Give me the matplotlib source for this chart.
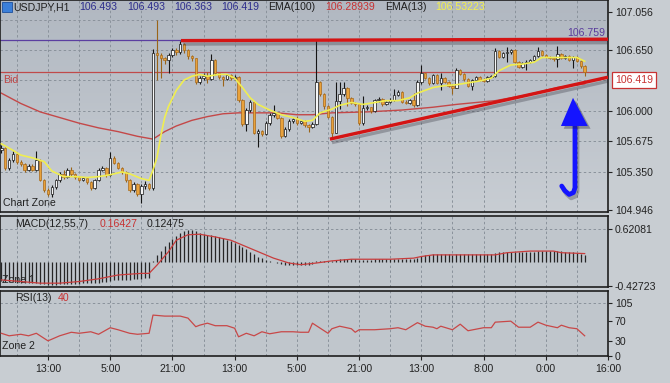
import numpy as np
import matplotlib
matplotlib.use('Agg')
import matplotlib.pyplot as plt
import matplotlib.patheffects as pe
from matplotlib.colors import LinearSegmentedColormap
from matplotlib.patches import Polygon, Rectangle

plt.rcParams['font.family'] = ['Liberation Sans', 'DejaVu Sans']

# ---- USDJPY H1 candles (open = previous close) ----
open_first = 105.58
close = [
    105.61, 105.39, 105.48, 105.54, 105.46, 105.43, 105.37, 105.41, 105.37, 105.48,
    105.26, 105.16, 105.11, 105.19, 105.26, 105.33, 105.30, 105.37, 105.33, 105.30,
    105.26, 105.29, 105.24, 105.18, 105.26, 105.37, 105.39, 105.32, 105.50, 105.45,
    105.39, 105.35, 105.26, 105.16, 105.22, 105.11, 105.20, 105.22, 105.18, 106.62,
    106.60, 106.56, 106.54, 106.60, 106.65, 106.63, 106.71, 106.65, 106.59, 106.56,
    106.31, 106.35, 106.37, 106.34, 106.54, 106.40, 106.36, 106.34, 106.38, 106.35,
    106.36, 106.12, 105.86, 106.01, 106.10, 105.77, 105.79, 105.75, 105.87, 105.96,
    105.98, 105.93, 105.73, 105.81, 105.89, 105.91, 105.87, 105.89, 105.85, 105.83,
    105.86, 106.31, 106.18, 106.05, 105.94, 105.77, 106.11, 106.18, 106.25, 106.14,
    106.09, 106.07, 105.87, 106.03, 106.04, 106.00, 106.12, 106.13, 106.07, 106.10,
    106.12, 106.17, 106.20, 106.10, 106.09, 106.12, 106.06, 106.31, 106.40, 106.35,
    106.30, 106.38, 106.30, 106.35, 106.31, 106.27, 106.25, 106.44, 106.39, 106.34,
    106.27, 106.33, 106.36, 106.33, 106.32, 106.36, 106.37, 106.64, 106.58, 106.62,
    106.63, 106.65, 106.52, 106.47, 106.51, 106.52, 106.54, 106.59, 106.64, 106.60,
    106.58, 106.56, 106.55, 106.61, 106.56, 106.59, 106.54, 106.58, 106.53, 106.48,
    106.42]
high = [
    105.64, 105.62, 105.50, 105.57, 105.55, 105.48, 105.45, 105.43, 105.43, 105.57,
    105.49, 105.28, 105.18, 105.21, 105.28, 105.35, 105.37, 105.39, 105.40, 105.34,
    105.31, 105.30, 105.30, 105.25, 105.27, 105.39, 105.41, 105.40, 105.56, 105.52,
    105.46, 105.40, 105.36, 105.27, 105.24, 105.23, 105.22, 105.25, 105.23, 106.66,
    106.97, 106.62, 106.58, 106.62, 106.67, 106.67, 106.75, 106.72, 106.66, 106.60,
    106.57, 106.37, 106.40, 106.42, 106.61, 106.55, 106.41, 106.37, 106.39, 106.39,
    106.38, 106.37, 106.13, 106.03, 106.12, 106.11, 105.81, 105.80, 105.89, 105.98,
    106.06, 105.99, 105.94, 105.83, 105.91, 105.93, 105.95, 105.90, 105.90, 105.86,
    105.88, 106.76, 106.32, 106.19, 106.06, 105.95, 106.31, 106.31, 106.31, 106.26,
    106.15, 106.10, 106.08, 106.16, 106.06, 106.04, 106.13, 106.15, 106.14, 106.11,
    106.14, 106.23, 106.22, 106.21, 106.12, 106.13, 106.19, 106.33, 106.49, 106.41,
    106.36, 106.39, 106.39, 106.40, 106.36, 106.32, 106.28, 106.46, 106.45, 106.40,
    106.35, 106.34, 106.37, 106.37, 106.35, 106.37, 106.38, 106.67, 106.65, 106.63,
    106.68, 106.66, 106.66, 106.53, 106.52, 106.54, 106.55, 106.60, 106.68, 106.65,
    106.61, 106.59, 106.57, 106.69, 106.62, 106.60, 106.60, 106.59, 106.59, 106.54,
    106.49]
low = [
    105.55, 105.37, 105.37, 105.46, 105.44, 105.41, 105.35, 105.36, 105.36, 105.36,
    105.25, 105.14, 105.09, 105.08, 105.17, 105.24, 105.28, 105.29, 105.31, 105.28,
    105.25, 105.25, 105.22, 105.16, 105.17, 105.25, 105.36, 105.30, 105.31, 105.44,
    105.38, 105.33, 105.24, 105.14, 105.14, 105.09, 105.02, 105.17, 105.16, 105.16,
    106.33, 106.35, 106.50, 106.40, 106.58, 106.60, 106.61, 106.62, 106.55, 106.53,
    106.29, 106.29, 106.33, 106.30, 106.33, 106.38, 106.34, 106.27, 106.33, 106.33,
    106.33, 106.10, 105.84, 105.79, 105.99, 105.75, 105.62, 105.73, 105.74, 105.85,
    105.94, 105.91, 105.71, 105.72, 105.79, 105.87, 105.85, 105.86, 105.83, 105.78,
    105.82, 105.85, 106.16, 106.02, 105.92, 105.71, 105.76, 106.02, 106.16, 106.05,
    106.07, 106.05, 105.85, 105.85, 106.01, 105.98, 105.99, 106.10, 106.05, 106.06,
    106.09, 106.11, 106.16, 106.08, 106.07, 106.07, 106.04, 106.05, 106.29, 106.34,
    106.28, 106.29, 106.29, 106.22, 106.30, 106.26, 106.18, 106.24, 106.38, 106.32,
    106.26, 106.22, 106.32, 106.32, 106.31, 106.31, 106.35, 106.36, 106.57, 106.57,
    106.52, 106.61, 106.51, 106.46, 106.46, 106.44, 106.51, 106.53, 106.58, 106.59,
    106.56, 106.55, 106.53, 106.47, 106.55, 106.55, 106.53, 106.46, 106.52, 106.46,
    106.37]

# moving averages, sampled at a few bars
ema13_bars = [0, 3, 5, 8, 11, 13, 16, 19, 22, 25, 28, 31, 33, 36, 38, 39, 40, 41, 42, 43,
              45, 47, 49, 51, 53, 56, 58, 60, 62, 64, 66, 69, 72, 75, 78, 80, 82, 85, 87, 90,
              93, 96, 99, 102, 105, 107, 109, 111, 114, 117, 120, 123, 126, 128, 131, 134, 137,
              139, 142, 145, 148, 150]
ema13 = [105.65, 105.58, 105.53, 105.50, 105.46, 105.36, 105.30, 105.30, 105.29, 105.30,
         105.32, 105.35, 105.33, 105.28, 105.26, 105.37, 105.50, 105.73, 105.93, 106.05,
         106.22, 106.33, 106.37, 106.39, 106.37, 106.39, 106.39, 106.35, 106.25, 106.14,
         106.07, 106.01, 105.96, 105.93, 105.89, 105.90, 105.98, 106.02, 106.06, 106.09,
         106.07, 106.09, 106.11, 106.11, 106.14, 106.19, 106.22, 106.25, 106.27, 106.28,
         106.30, 106.32, 106.35, 106.43, 106.49, 106.50, 106.52, 106.57, 106.57, 106.57,
         106.57, 106.53]
ema100_bars = [0, 5, 10, 15, 20, 25, 30, 35, 39, 42, 45, 49, 53, 57, 61, 66, 71, 76, 80,
               85, 94, 103, 111, 117, 127, 135, 143, 150]
ema100 = [106.19, 106.08, 105.99, 105.93, 105.87, 105.82, 105.78, 105.73, 105.70, 105.78,
          105.84, 105.90, 105.94, 105.97, 105.98, 105.98, 105.98, 105.96, 105.96, 105.98,
          105.99, 106.01, 106.04, 106.07, 106.11, 106.17, 106.25, 106.29]

# MACD(12,55,7): histogram per bar, signal sampled
macd_hist = [
    -0.34, -0.35, -0.36, -0.36, -0.37, -0.37, -0.38, -0.38, -0.38, -0.38,
    -0.39, -0.40, -0.41, -0.41, -0.41, -0.40, -0.40, -0.39, -0.39, -0.39,
    -0.39, -0.38, -0.38, -0.38, -0.38, -0.37, -0.36, -0.36, -0.34, -0.33,
    -0.33, -0.32, -0.32, -0.32, -0.31, -0.31, -0.30, -0.29, -0.29, 0.03,
    0.13, 0.22, 0.31, 0.38, 0.44, 0.49, 0.54, 0.57, 0.59, 0.59,
    0.57, 0.55, 0.53, 0.51, 0.50, 0.49, 0.47, 0.45, 0.42, 0.39,
    0.36, 0.32, 0.28, 0.24, 0.20, 0.15, 0.11, 0.08, 0.05, 0.03,
    0.01, -0.01, -0.03, -0.04, -0.04, -0.05, -0.05, -0.05, -0.05, -0.04,
    -0.03, 0.02, 0.03, 0.03, 0.03, 0.02, 0.04, 0.06, 0.07, 0.07,
    0.07, 0.07, 0.05, 0.05, 0.05, 0.05, 0.06, 0.06, 0.06, 0.06,
    0.06, 0.07, 0.07, 0.06, 0.06, 0.06, 0.06, 0.09, 0.12, 0.13,
    0.14, 0.15, 0.15, 0.15, 0.15, 0.15, 0.14, 0.16, 0.16, 0.15,
    0.15, 0.15, 0.15, 0.15, 0.15, 0.15, 0.15, 0.18, 0.19, 0.19,
    0.19, 0.20, 0.19, 0.19, 0.19, 0.19, 0.20, 0.20, 0.21, 0.21,
    0.21, 0.21, 0.21, 0.21, 0.21, 0.20, 0.20, 0.19, 0.18, 0.15,
    0.13]
signal_bars = [0, 5, 10, 15, 20, 25, 30, 36, 38, 40, 43, 45, 48, 51, 55, 59, 63, 67, 70,
               74, 77, 81, 85, 90, 94, 100, 106, 108, 111, 120, 127, 130, 136, 142, 144, 150]
signal = [-0.32, -0.35, -0.38, -0.38, -0.35, -0.30, -0.23, -0.20, -0.20, -0.05, 0.20, 0.41,
          0.51, 0.52, 0.47, 0.41, 0.29, 0.17, 0.08, -0.01, -0.04, -0.01, 0.03, 0.06, 0.06,
          0.06, 0.08, 0.11, 0.14, 0.14, 0.14, 0.18, 0.21, 0.21, 0.18, 0.164]

# RSI(13), sampled
rsi_bars = [0, 2, 5, 7, 9, 12, 15, 18, 20, 23, 25, 28, 30, 33, 35, 38, 39, 42, 46, 48,
            50, 51, 53, 55, 58, 60, 61, 63, 65, 67, 69, 72, 75, 77, 79, 80, 82, 84, 85, 87,
            90, 91, 92, 96, 100, 102, 104, 107, 109, 111, 112, 113, 116, 118, 120, 124, 126,
            127, 131, 133, 136, 138, 140, 143, 144, 146, 148, 150]
rsi = [45, 40, 43, 40, 45, 30, 40, 47, 45, 48, 43, 56, 52, 45, 43, 45, 81, 79, 79, 75,
       58, 61, 65, 60, 60, 55, 38, 45, 40, 48, 44, 48, 48, 47, 47, 65, 55, 45, 54, 59,
       54, 47, 52, 52, 54, 56, 52, 66, 59, 57, 54, 59, 52, 63, 50, 56, 56, 67, 69, 57,
       57, 67, 61, 56, 61, 56, 54, 40]

time_labels = ['13:00', '5:00', '21:00', '13:00', '5:00', '21:00', '13:00', '8:00', '0:00', '16:00']
label_bars = [12, 28, 44, 60, 76, 92, 108, 124, 140, 156]
price_ticks = [104.946, 105.350, 105.675, 106.000, 106.650, 107.056]
price_grid = [105.350, 105.675, 106.000, 106.325, 106.650, 106.975]
bid, top_level = 106.419, 106.759

# drawn annotations (bar index, price)
resist_line = ([46.2, 156], [106.75, 106.765])
support_line = ([84.5, 156], [105.70, 106.36])
arrow_shaft = ([147.5, 147.5, 147.1, 146.0, 144.9, 144.1],
               [105.86, 105.18, 105.13, 105.11, 105.15, 105.20])
arrow_head = ([143.9, 150.8, 147.0], [105.84, 105.84, 106.14])

# ---- figure ----
W, H = 670, 383
fig = plt.figure(figsize=(W / 100, H / 100), dpi=100)
fig.patch.set_facecolor('#c8cdd2')


def box(top, bottom):
    return [0, 1 - bottom / H, 608 / W, (bottom - top) / H]


ax = fig.add_axes(box(0, 212))
ax_m = fig.add_axes(box(216, 287))
ax_r = fig.add_axes(box(291, 356))

XL = (-0.34, 156)
grid_kw = dict(color='#8a929b', lw=0.7, ls=(0, (2.5, 2.5)), zorder=1)
for a in (ax, ax_m, ax_r):
    a.set_facecolor('#c0c6cc')
    for b in range(4, 157, 8):
        a.axvline(b, **grid_kw)
    for s in a.spines.values():
        s.set_color('#1e1e1e')
        s.set_linewidth(1.2)
    a.yaxis.tick_right()
    a.tick_params(axis='y', direction='out', length=3, width=0.8, pad=2,
                  labelsize=7.6, labelcolor='#222222', color='#222222')
    a.tick_params(axis='x', bottom=False, labelbottom=False)

# main panel
PY = (104.923, 107.183)
bg = LinearSegmentedColormap.from_list('bg', ['#b1b8c1', '#c8cdd3'])
ax.imshow(np.linspace(0, 1, 64).reshape(-1, 1), extent=[XL[0], XL[1], PY[0], PY[1]],
          aspect='auto', cmap=bg, origin='upper', zorder=0)
for p in price_grid:
    ax.axhline(p, **grid_kw)
ax.axhline(top_level, color='#5b3fa0', lw=0.9, zorder=2)
ax.axhline(bid, color='#c04a4a', lw=0.9, zorder=2)
ax.plot(ema100_bars, ema100, color='#c44848', lw=1.0, zorder=2)

c = np.array(close)
o = np.r_[open_first, c[:-1]]
hi, lo = np.array(high), np.array(low)
x = np.arange(len(c))
up = c >= o
body = np.maximum(np.abs(c - o), 0.006)
bot = np.minimum(o, c)
ax.vlines(x[up], lo[up], hi[up], color='#151515', lw=0.8, zorder=3)
ax.vlines(x[~up], lo[~up], hi[~up], color='#9a6418', lw=0.8, zorder=3)
ax.bar(x[up], body[up], bottom=bot[up], width=0.62, color='#f6f6f6',
       edgecolor='#151515', lw=0.5, zorder=4)
ax.bar(x[~up], body[~up], bottom=bot[~up], width=0.62, color='#e9a23b',
       edgecolor='#a86a1c', lw=0.5, zorder=4)
ax.plot(ema13_bars, ema13, color='#f0ee50', lw=1.2, zorder=5)

shadow = [pe.SimpleLineShadow(offset=(1.5, -2.5), shadow_color='#2a2a35', alpha=0.3), pe.Normal()]
for xs, ys in (resist_line, support_line):
    ax.plot(xs, ys, color='#d41414', lw=2.4, solid_capstyle='butt', zorder=6, path_effects=shadow)
ax.plot(*arrow_shaft, color='#1414ff', lw=3.4, solid_capstyle='round', solid_joinstyle='round',
        zorder=7, path_effects=shadow)
ax.add_patch(Polygon(np.column_stack(arrow_head), closed=True, fc='#1414ff', ec='none', zorder=7,
                     path_effects=[pe.withSimplePatchShadow(offset=(2, -2), shadow_rgbFace='#202030',
                                                            alpha=0.35)]))
ax.set_xlim(*XL)
ax.set_ylim(*PY)
ax.set_yticks(price_ticks)
ax.set_yticklabels([f'{p:.3f}' for p in price_ticks])
ax.text(1 + 7 / 608, 106.33, f'{bid:.3f}', transform=ax.get_yaxis_transform(), color='#c83232',
        fontsize=7.6, va='center', ha='left', clip_on=False, zorder=8,
        bbox=dict(boxstyle='square,pad=0.3', fc='white', ec='#c83232', lw=0.9))

# MACD panel
ax_m.axhline(0.62081, **grid_kw)
ax_m.vlines(x, 0, macd_hist, color='#262626', lw=0.9, zorder=3)
ax_m.plot(signal_bars, signal, color='#c83c3c', lw=0.9, zorder=4)
ax_m.set_xlim(*XL)
ax_m.set_ylim(-0.4506, 0.855)
ax_m.set_yticks([-0.42723, 0.62081])
ax_m.set_yticklabels(['-0.42723', '0.62081'])

# RSI panel
ax_r.axhline(105, **grid_kw)
ax_r.plot(rsi_bars, rsi, color='#c84848', lw=0.9, zorder=3)
ax_r.set_xlim(*XL)
ax_r.set_ylim(0, 128.7)
ax_r.set_yticks([0, 30, 70, 105])
ax_r.set_xticks(label_bars)
ax_r.set_xticklabels(time_labels)
ax_r.tick_params(axis='x', bottom=True, labelbottom=True, direction='out', length=3,
                 width=0.8, pad=3, labelsize=7.6, labelcolor='#222222', color='#222222')


def txt(a, px, py, s, z=9, **kw):
    kw.setdefault('fontsize', 7.6)
    kw.setdefault('color', '#202020')
    a.text(px / W, 1 - py / H, s, transform=fig.transFigure, va='center', ha=kw.pop('ha', 'left'),
           zorder=z, **kw)


# header line
fig.add_artist(Rectangle((2 / W, 1 - 12 / H), 10 / W, 10 / H, transform=fig.transFigure,
                         fc='#3b7fd9', ec='#1d4f9c', lw=0.6))
txt(ax, 7, 7, '\u2193', ha='center', color='white', fontsize=7, fontweight='bold')
blue, red, yellow = '#2c2c8c', '#c83232', '#f3f04a'
for s, px, col in [('USDJPY,H1', 13, '#1e1e1e'), ('106.493', 79, blue), ('106.493', 127, blue),
                   ('106.363', 174, blue), ('106.419', 221, blue), ('EMA(100)', 268, '#1e1e1e'),
                   ('106.28939', 325, red), ('EMA(13)', 385, '#1e1e1e'), ('106.53223', 435, yellow)]:
    txt(ax, px, 7, s, color=col)
txt(ax, 605, 33, f'{top_level:.3f}', ha='right', color='#5a3c9c')
txt(ax, 3, 80, 'Bid', color='#c04444')
txt(ax, 3, 203, 'Chart Zone', z=0.5)

txt(ax_m, 15, 224, 'MACD(12,55,7)')
txt(ax_m, 100, 224, '0.16427', color=red)
txt(ax_m, 147, 224, '0.12475')
txt(ax_m, 2, 280, 'Zone 1', z=0.5)

txt(ax_r, 15, 298, 'RSI(13)')
txt(ax_r, 58, 298, '40', color=red)
txt(ax_r, 2, 346, 'Zone 2', z=0.5)

fig.savefig('out.png', dpi=100, facecolor=fig.get_facecolor())
